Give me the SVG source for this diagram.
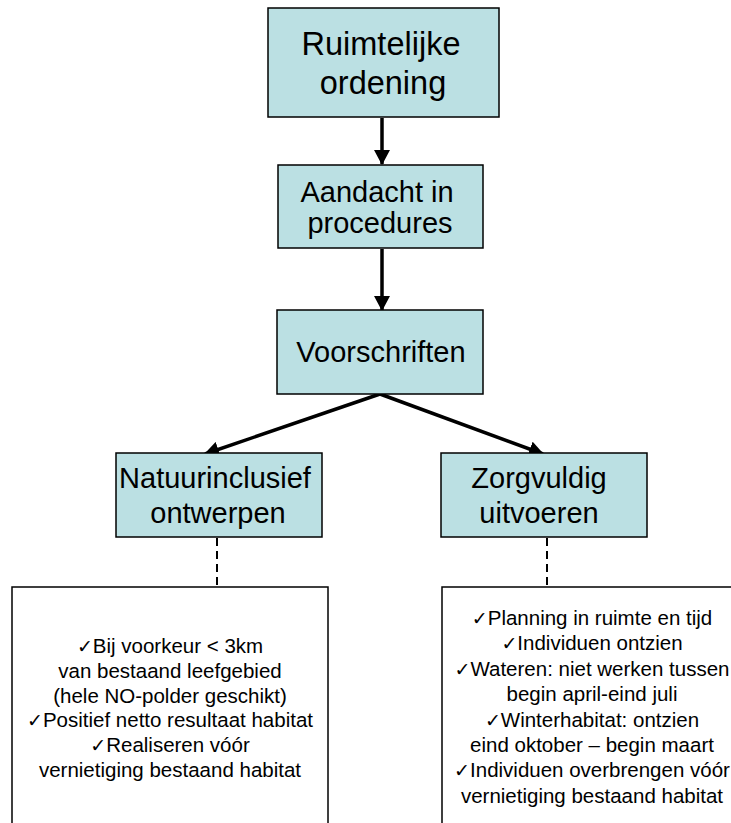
<svg xmlns="http://www.w3.org/2000/svg" width="731" height="823" viewBox="0 0 731 823">
<style>
.box{fill:#BBE0E3;stroke:#000;stroke-width:1.5}
.note{fill:#fff;stroke:#000;stroke-width:1.5}
.t{font-family:"Liberation Sans",Arial,sans-serif;fill:#000;text-anchor:middle}
.big{font-size:32.5px}
.mid{font-size:29px}
.sm{font-size:20.5px}
.ck{font-family:"DejaVu Sans",sans-serif;font-size:19px}
.arrow{stroke:#000;stroke-width:3.5;fill:none;marker-end:url(#ah)}
.dash{stroke:#000;stroke-width:2;stroke-dasharray:8 5;fill:none}
</style>
<defs>
<marker id="ah" markerUnits="userSpaceOnUse" viewBox="0 0 15 16" refX="14" refY="8" markerWidth="15" markerHeight="16" orient="auto">
<path d="M0,0 L15,8 L0,16 Z" fill="#000"/>
</marker>
</defs>
<rect width="731" height="823" fill="#fff"/>
<g id="connectors">
<line class="arrow" x1="382" y1="118" x2="382" y2="164"/>
<line class="arrow" x1="382" y1="249" x2="382" y2="310"/>
<line class="arrow" x1="380" y1="394" x2="205" y2="454"/>
<line class="arrow" x1="380" y1="394" x2="543" y2="454"/>
<line class="dash" x1="217" y1="538" x2="217" y2="587"/>
<line class="dash" x1="547" y1="538" x2="547" y2="587"/>
</g>
<g id="ruimtelijke">
<rect class="box" x="268" y="8" width="231" height="109"/>
<text class="t big" x="381" y="55">Ruimtelijke</text>
<text class="t big" x="383" y="94">ordening</text>
</g>
<g id="aandacht">
<rect class="box" x="278" y="165" width="205" height="83"/>
<text class="t mid" x="377" y="202">Aandacht in</text>
<text class="t mid" x="380" y="233">procedures</text>
</g>
<g id="voorschriften">
<rect class="box" x="277" y="310" width="206" height="84"/>
<text class="t mid" x="381" y="362">Voorschriften</text>
</g>
<g id="natuurinclusief">
<rect class="box" x="116" y="453" width="206" height="84"/>
<text class="t mid" x="215" y="488">Natuurinclusief</text>
<text class="t mid" x="218" y="523">ontwerpen</text>
</g>
<g id="zorgvuldig">
<rect class="box" x="441" y="453" width="206" height="84"/>
<text class="t mid" x="539" y="488">Zorgvuldig</text>
<text class="t mid" x="539" y="523">uitvoeren</text>
</g>
<g id="note-left">
<rect class="note" x="12" y="587" width="316" height="250"/>
<text class="t sm" x="170" y="653"><tspan class="ck">✓</tspan>Bij voorkeur &lt; 3km</text>
<text class="t sm" x="170" y="678">van bestaand leefgebied</text>
<text class="t sm" x="170" y="703">(hele NO-polder geschikt)</text>
<text class="t sm" x="170" y="727"><tspan class="ck">✓</tspan>Positief netto resultaat habitat</text>
<text class="t sm" x="170" y="752"><tspan class="ck">✓</tspan>Realiseren vóór</text>
<text class="t sm" x="170" y="777">vernietiging bestaand habitat</text>
</g>
<g id="note-right">
<rect class="note" x="442" y="587" width="300" height="250"/>
<text class="t sm" x="592" y="625"><tspan class="ck">✓</tspan>Planning in ruimte en tijd</text>
<text class="t sm" x="592" y="650"><tspan class="ck">✓</tspan>Individuen ontzien</text>
<text class="t sm" x="592" y="676"><tspan class="ck">✓</tspan>Wateren: niet werken tussen</text>
<text class="t sm" x="592" y="701">begin april-eind juli</text>
<text class="t sm" x="592" y="727"><tspan class="ck">✓</tspan>Winterhabitat: ontzien</text>
<text class="t sm" x="592" y="752">eind oktober – begin maart</text>
<text class="t sm" x="592" y="777"><tspan class="ck">✓</tspan>Individuen overbrengen vóór</text>
<text class="t sm" x="592" y="803">vernietiging bestaand habitat</text>
</g>
</svg>
